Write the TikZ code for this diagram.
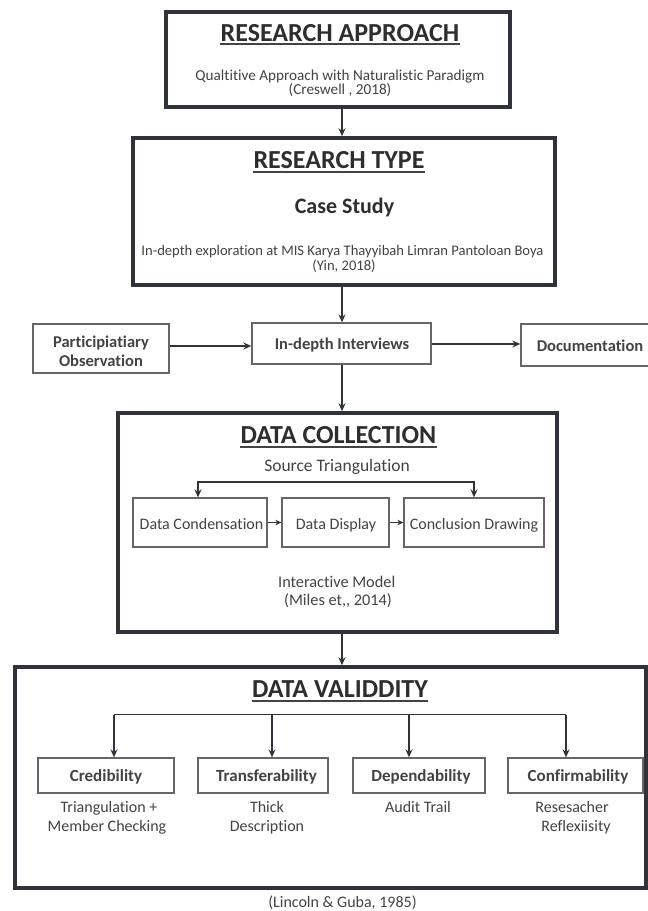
\documentclass[tikz,border=0pt]{standalone}
\usepackage{fontspec}
\setmainfont[Ligatures={NoCommon}]{Carlito}
\usetikzlibrary{arrows.meta,calc}
\definecolor{ln}{HTML}{30343A}
\definecolor{bx}{HTML}{666666}
\definecolor{tt}{HTML}{2E2E2E}
\definecolor{tx}{HTML}{434343}
\newcommand{\fs}[1]{\fontsize{#1}{#1}\selectfont}
\begin{document}
\begin{tikzpicture}[x=1pt,y=-1pt,
  bigbox/.style={draw=ln, line width=3.5pt, rectangle, inner sep=0pt},
  smallbox/.style={draw=bx, line width=1.3pt, rectangle, inner sep=0pt},
  arr/.style={draw=ln, line width=1.3pt, -{Stealth[length=8pt,width=7pt]}},
  sarr/.style={draw=ln, line width=1.2pt, -{Stealth[length=6pt,width=5.5pt]}},
  ttl/.style={font=\bfseries\fs{26}, text=tt, inner sep=0pt, anchor=base},
  ul/.style={draw=tx, line width=1.6pt},
  txt/.style={text=tx, inner sep=0pt, anchor=base},
  lbl/.style={txt, font=\bfseries\fs{16.5}},
]
\useasboundingbox (0,0) rectangle (648,911);
\clip (0,0) rectangle (648,911);
\fill[white] (0,0) rectangle (648,911);

\coordinate (mx) at (342,0);

% ---------- Research approach ----------
\node[bigbox, minimum width=344pt, minimum height=95pt] (ra) at (338,59.5) {};
\node[ttl] (raT) at (340,41) {RESEARCH APPROACH};
\draw[ul] ([yshift=-3pt]raT.base west) -- ([yshift=-3pt]raT.base east);
\node[txt, font=\fs{15.2}] (raL1) at (340,80) {Qualtitive Approach with Naturalistic Paradigm};
\node[txt, font=\fs{15.2}] (raL2) at (340,94) {(Creswell , 2018)};

% ---------- Research type ----------
\node[bigbox, minimum width=422pt, minimum height=147pt] (rt) at (344,211.5) {};
\node[ttl] (rtT) at (339,168) {RESEARCH TYPE};
\draw[ul] ([yshift=-4pt]rtT.base west) -- ([yshift=-4pt]rtT.base east);
\node[txt, font=\bfseries\fs{22}, text=tt] (rtC) at (344.5,213) {Case Study};
\node[txt, font=\fs{14.6}] (rtL1) at (342.5,255) {In-depth exploration at MIS Karya Thayyibah Limran Pantoloan Boya};
\node[txt, font=\fs{14.6}] (rtL2) at (344,270) {(Yin, 2018)};

% ---------- Middle row ----------
\node[smallbox, minimum width=136pt, minimum height=49pt] (po) at (101,348.5) {};
\node[lbl] (poL1) at (101,347) {Participiatiary};
\node[lbl] (poL2) at (101,366) {Observation};
\node[smallbox, minimum width=179pt, minimum height=41pt] (in) at (341.5,343.5) {};
\node[lbl] (inL) at (342,349.5) {In-depth Interviews};
\node[smallbox, minimum width=139pt, minimum height=42pt] (do) at (590.5,345) {};
\node[lbl] (doL) at (590,351) {Documentation};

\coordinate (y1) at (0,346);
\coordinate (y2) at (0,344);
\draw[arr] (ra.south -| mx) -- (rt.north -| mx);
\draw[arr] (rt.south -| mx) -- (in.north -| mx);
\draw[arr] (po.east |- y1) -- (in.west |- y1);
\draw[arr] (in.east |- y2) -- (do.west |- y2);

% ---------- Data collection ----------
\node[bigbox, minimum width=439pt, minimum height=219pt] (dc) at (337.5,522.5) {};
\node[ttl] (dcT) at (338.5,443) {DATA COLLECTION};
\draw[ul] ([yshift=-4pt]dcT.base west) -- ([yshift=-4pt]dcT.base east);
\node[txt, font=\fs{17.5}] (dcS) at (337,471) {Source Triangulation};
\node[smallbox, minimum width=134pt, minimum height=49pt] (cond) at (200,522.5) {};
\node[smallbox, minimum width=107pt, minimum height=49pt] (disp) at (335.5,522.5) {};
\node[smallbox, minimum width=140pt, minimum height=49pt] (concl) at (474,522.5) {};
\node[txt, font=\fs{16}] (condL) at (201.5,529) {Data Condensation};
\node[txt, font=\fs{16}] (dispL) at (336,529) {Data Display};
\node[txt, font=\fs{16}] (conclL) at (474,529) {Conclusion Drawing};
\node[txt, font=\fs{16.3}] (dcM1) at (336.7,587) {Interactive Model};
\node[txt, font=\fs{16.3}] (dcM2) at (338,605) {(Miles et{,}{,} 2014)};

\coordinate (stc) at (336,482);
\draw[arr] (stc) -| ([xshift=-2pt]cond.north);
\draw[arr] (stc) -| (concl.north);
\draw[sarr] (cond.east) -- (disp.west);
\draw[sarr] (disp.east) -- (concl.west);
\draw[arr] (in.south -| mx) -- (dc.north -| mx);

% ---------- Data validity ----------
\node[bigbox, minimum width=631pt, minimum height=221pt] (dv) at (330.5,777.5) {};
\draw[arr] (dc.south -| mx) -- (dv.north -| mx);
\node[ttl] (dvT) at (340,697) {DATA VALIDDITY};
\draw[ul] ([yshift=-4pt]dvT.base west) -- ([yshift=-4pt]dvT.base east);

\node[smallbox, minimum width=136pt, minimum height=35pt] (cred) at (106,775.5) {};
\node[smallbox, minimum width=130pt, minimum height=35pt] (trans) at (263,775.5) {};
\node[smallbox, minimum width=132pt, minimum height=35pt] (dep) at (419,775.5) {};
\node[smallbox, minimum width=135pt, minimum height=35pt] (conf) at (575.5,775.5) {};
\node[lbl, font=\bfseries\fs{17}] (credL) at (106,781) {Credibility};
\node[lbl, font=\bfseries\fs{17}] (transL) at (266.5,781) {Transferability};
\node[lbl, font=\bfseries\fs{17}] (depL) at (421,781) {Dependability};
\node[lbl, font=\bfseries\fs{17}] (confL) at (578,781) {Confirmability};

\coordinate (b1) at (114,714.5);
\coordinate (b2) at (272,714.5);
\coordinate (b3) at (409,714.5);
\coordinate (b4) at (566,714.5);
\draw[draw=ln, line width=1.3pt] (b1) -- (b4);
\draw[arr] (b1) -- (b1 |- cred.north);
\draw[arr] (b2) -- (b2 |- trans.north);
\draw[arr] (b3) -- (b3 |- dep.north);
\draw[arr] (b4) -- (b4 |- conf.north);

\node[txt, font=\fs{16}] (s1a) at (109,812) {Triangulation +};
\node[txt, font=\fs{16}] (s1b) at (107,831) {Member Checking};
\node[txt, font=\fs{16}] (s2a) at (267,812) {Thick};
\node[txt, font=\fs{16}] (s2b) at (267,831) {Description};
\node[txt, font=\fs{16}] (s3a) at (418,812) {Audit Trail};
\node[txt, font=\fs{16}] (s4a) at (572,812) {Resesacher};
\node[txt, font=\fs{16}] (s4b) at (576,831) {Reflexiisity};

\node[txt, font=\fs{16}] (src) at (342.5,907) {(Lincoln \& Guba, 1985)};
\end{tikzpicture}
\end{document}
